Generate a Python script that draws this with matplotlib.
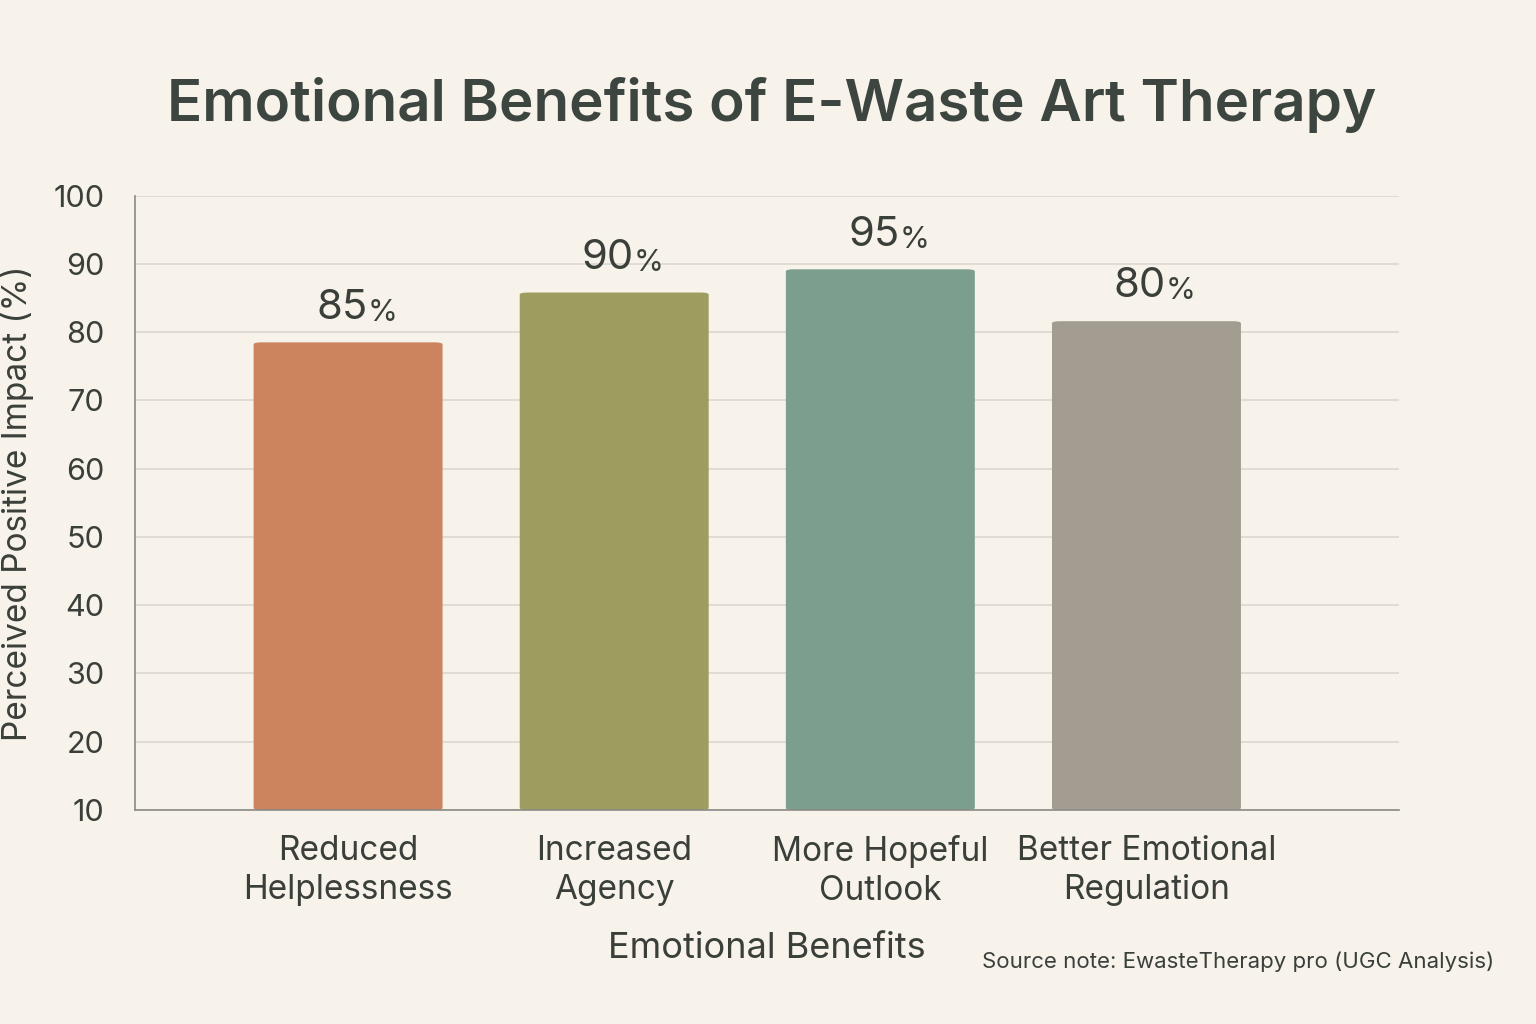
import matplotlib
matplotlib.use("Agg")
import matplotlib.pyplot as plt
from matplotlib.patches import FancyBboxPatch

plt.rcParams['font.family'] = ['Inter', 'DejaVu Sans']

categories = ["Reduced\nHelplessness", "Increased\nAgency", "More Hopeful\nOutlook", "Better Emotional\nRegulation"]
bar_heights = [78.5, 85.8, 89.2, 81.6]
value_labels = ["85", "90", "95", "80"]
colors = ["#cb845e", "#9e9c5e", "#7c9e8f", "#a29d90"]
yticks = list(range(10, 101, 10))

bg = "#f7f3ea"
txt = "#3a3f3a"
fig = plt.figure(figsize=(15.36, 10.24), dpi=100, facecolor=bg)
ax = fig.add_axes([0.088, 0.209, 0.823, 0.6])
ax.set_facecolor(bg)
ax.set_ylim(10, 100)
ax.set_xlim(-0.80, 3.95)
ax.set_yticks(yticks)
ax.grid(axis="y", color="#dcd8cf", lw=1.2)
ax.set_axisbelow(True)
for s in ["top", "right"]:
    ax.spines[s].set_visible(False)
for s in ["left", "bottom"]:
    ax.spines[s].set_color("#8a8a85")
    ax.spines[s].set_linewidth(1.2)
ax.tick_params(axis="y", length=0, labelsize=22, colors=txt, pad=22)
ax.tick_params(axis="x", length=0, labelsize=24, colors=txt, pad=18)

w = 0.71
for i, (h, c, lab) in enumerate(zip(bar_heights, colors, value_labels)):
    p = FancyBboxPatch((i - w / 2, 10), w, h - 10,
                       boxstyle="round,pad=0,rounding_size=0.03",
                       mutation_aspect=10, fc=c, ec="none")
    ax.add_patch(p)
    t = ax.annotate(lab, (i, h + 2.3), ha="right", va="bottom",
                    fontsize=30, color=txt, xytext=(14, 0), textcoords="offset points")
    ax.annotate("%", (i, h + 2.3), ha="left", va="bottom",
                fontsize=22, color=txt, xytext=(14, 0), textcoords="offset points")

ax.set_xticks(range(len(categories)))
ax.set_xticklabels(categories, linespacing=1.3)
ax.set_ylabel("Perceived Positive Impact (%)", fontsize=24, color=txt, labelpad=14)
ax.set_xlabel("Emotional Benefits", fontsize=26, color=txt, labelpad=18)

fig.text(0.109, 0.897, "Emotional Benefits of E-Waste Art Therapy", fontsize=42,
         fontweight="semibold", color="#3d4540", va="center")
fig.text(0.973, 0.061, "Source note: EwasteTherapy pro (UGC Analysis)", fontsize=16,
         color=txt, ha="right", va="center")
fig.savefig("out.png", dpi=100, facecolor=bg)
